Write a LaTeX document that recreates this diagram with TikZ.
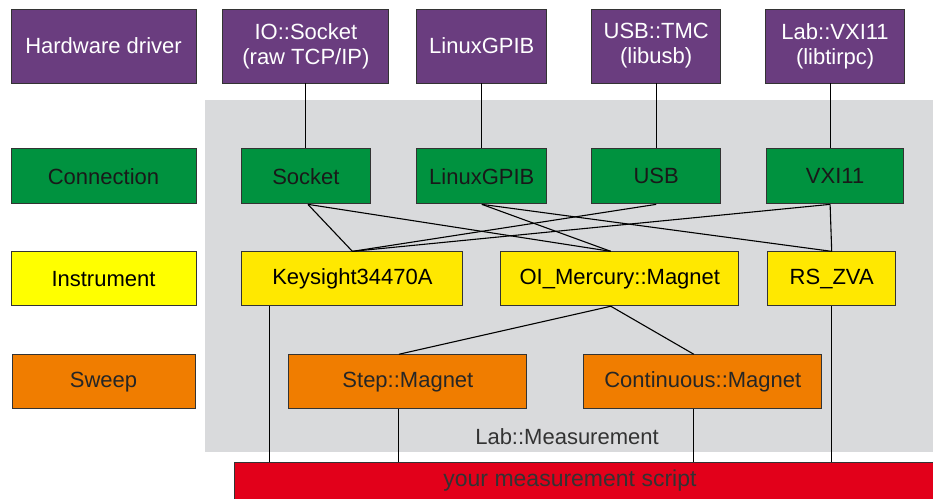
\documentclass[tikz,border=0pt]{standalone}
\usepackage{fontspec}
\setmainfont{Liberation Sans}
\usetikzlibrary{positioning}

\definecolor{hwpurple}{HTML}{6A3D7F}
\definecolor{conngreen}{HTML}{00923F}
\definecolor{labelyellow}{HTML}{FFFF00}
\definecolor{instyellow}{HTML}{FFE800}
\definecolor{sweeporange}{HTML}{F07D00}
\definecolor{scriptred}{HTML}{E2001A}
\definecolor{measgray}{HTML}{D9DADC}

\tikzset{
  box/.style={rectangle, draw=black!80, line width=0.9pt, inner sep=0pt,
    font=\fontsize{22}{25}\selectfont, align=center},
  hwbox/.style={box, fill=hwpurple, text=white, minimum height=74pt},
  connbox/.style={box, fill=conngreen, text=black!90, minimum height=55pt},
  instbox/.style={box, fill=instyellow, text=black, minimum height=54pt},
  sweepbox/.style={box, fill=sweeporange, text=black!85, minimum height=54pt},
  scriptbox/.style={box, fill=scriptred, text=black!80, minimum height=37pt,
    font=\fontsize{23}{25}\selectfont},
  link/.style={draw=black, line width=1.1pt},
}

\begin{document}
\begin{tikzpicture}[x=1pt,y=-1pt]
  \useasboundingbox (0,0) rectangle (933,498);
  % Lab::Measurement area
  \fill[measgray] (205,100) rectangle (933,452);
  \node[font=\fontsize{22}{25}\selectfont, text=black!80] (measlabel) at (567,437) {Lab::Measurement};

  % hardware drivers
  \node[hwbox, minimum width=185pt] (hwlabel) at (103.5,46) {Hardware driver};
  \node[hwbox, minimum width=166pt, right=26pt of hwlabel] (iosock) {IO::Socket\\(raw TCP/IP)};
  \node[hwbox, minimum width=130pt, right=27pt of iosock] (gpib) {LinuxGPIB};
  \node[hwbox, minimum width=129pt, right=44pt of gpib] (usbtmc) {USB::TMC\\(libusb)};
  \node[hwbox, minimum width=139pt, right=44pt of usbtmc] (vxi) {Lab::VXI11\\(libtirpc)};

  % connections
  \node[connbox, minimum width=185pt, below=65pt of hwlabel] (connlabel) {Connection};
  \node[connbox, minimum width=129pt, below=65pt of iosock] (socket) {Socket};
  \node[connbox, minimum width=130pt, below=65pt of gpib] (linuxgpib) {LinuxGPIB};
  \node[connbox, minimum width=129pt, below=65pt of usbtmc] (usb) {USB};
  \node[connbox, minimum width=137pt, below=65pt of vxi] (vxidev) {VXI11};

  % instruments
  \node[instbox, fill=labelyellow, minimum width=185pt, below=47pt of connlabel] (instlabel) {Instrument};
  \node[instbox, minimum width=221pt, right=45pt of instlabel] (keysight) {Keysight34470A};
  \node[instbox, minimum width=238pt, right=37pt of keysight] (mercury) {OI\_Mercury::Magnet};
  \node[instbox, minimum width=128pt, right=28pt of mercury] (zva) {RS\_ZVA};

  % sweeps
  \node[sweepbox, minimum width=183pt, below=48pt of instlabel] (sweeplabel) {Sweep};
  \node[sweepbox, minimum width=238pt, right=93pt of sweeplabel] (step) {Step::Magnet};
  \node[sweepbox, minimum width=238pt, right=56pt of step] (cont) {Continuous::Magnet};

  \node[scriptbox, minimum width=710pt, anchor=north west] (script) at (234,462) {your measurement script\hspace*{39pt}};

  % driver -> connection
  \draw[link] (iosock) -- (socket);
  \draw[link] (gpib) -- (linuxgpib);
  \draw[link] (usbtmc) -- (usb);
  \draw[link] ([xshift=-5pt]vxi.south) -- ([xshift=-5pt]vxidev.north);

  % connection -> instrument
  \draw[link] ([xshift=2pt]socket.south) -- (keysight.north);
  \draw[link] ([xshift=2pt]socket.south) -- ([xshift=-9pt]mercury.north);
  \draw[link] (linuxgpib.south) -- ([xshift=-9pt]mercury.north);
  \draw[link] (linuxgpib.south) -- (zva.north);
  \draw[link] (usb.south) -- (keysight.north);
  \draw[link] ([xshift=-5pt]vxidev.south) -- (keysight.north);
  \draw[link] ([xshift=-5pt]vxidev.south) -- (zva.north);

  % instrument -> sweep
  \draw[link] ([xshift=-9pt]mercury.south) -- ([xshift=-9pt]step.north);
  \draw[link] ([xshift=-9pt]mercury.south) -- ([xshift=-9pt]cont.north);

  % -> script
  \draw[link] ([xshift=28pt]keysight.south west) coordinate (k) -- (k |- script.north);
  \draw[link] ([xshift=-9pt]step.south) coordinate (s) -- (s |- script.north);
  \draw[link] ([xshift=-9pt]cont.south) coordinate (c) -- (c |- script.north);
  \draw[link] (zva.south) -- (zva.south |- script.north);
\end{tikzpicture}
\end{document}
